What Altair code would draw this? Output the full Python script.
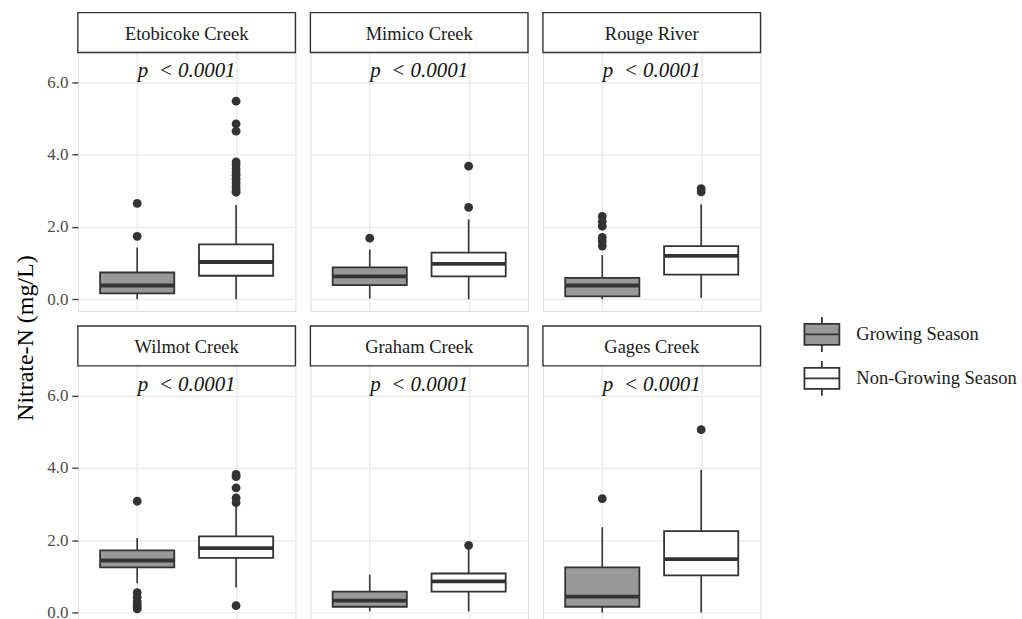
import altair as alt
import pandas as pd

# ---------------- data ----------------
sites = ["Etobicoke Creek", "Mimico Creek", "Rouge River",
         "Wilmot Creek", "Graham Creek", "Gages Creek"]
seasons = ["Growing Season", "Non-Growing Season"]
season_pos = [1, 2]
season_fill = ["#999999", "#ffffff"]

# per site: [Growing, Non-Growing]
whisker_lo = [0.00, 0.00, 0.02, 0.00, 0.00, 0.04, 0.81, 0.69, 0.03, 0.03, 0.00, 0.00]
q1 =         [0.16, 0.65, 0.39, 0.63, 0.08, 0.68, 1.25, 1.51, 0.16, 0.58, 0.16, 1.03]
median =     [0.38, 1.03, 0.63, 0.98, 0.38, 1.20, 1.44, 1.78, 0.33, 0.86, 0.44, 1.48]
q3 =         [0.74, 1.52, 0.88, 1.29, 0.59, 1.47, 1.72, 2.11, 0.58, 1.08, 1.25, 2.25]
whisker_hi = [1.43, 2.61, 1.37, 2.21, 1.22, 2.63, 2.06, 2.95, 1.05, 1.79, 2.36, 3.95]

out_site = (["Etobicoke Creek"] * 2 + ["Etobicoke Creek"] * 13 +
            ["Mimico Creek"] * 1 + ["Mimico Creek"] * 2 +
            ["Rouge River"] * 6 + ["Rouge River"] * 2 +
            ["Wilmot Creek"] * 7 + ["Wilmot Creek"] * 6 +
            ["Graham Creek"] * 1 +
            ["Gages Creek"] * 1 + ["Gages Creek"] * 1)
out_season = (["Growing Season"] * 2 + ["Non-Growing Season"] * 13 +
              ["Growing Season"] * 1 + ["Non-Growing Season"] * 2 +
              ["Growing Season"] * 6 + ["Non-Growing Season"] * 2 +
              ["Growing Season"] * 7 + ["Non-Growing Season"] * 6 +
              ["Non-Growing Season"] * 1 +
              ["Growing Season"] * 1 + ["Non-Growing Season"] * 1)
out_value = ([1.74, 2.65] +
             [5.48, 4.85, 4.65, 3.80, 3.72, 3.60, 3.50, 3.42, 3.32, 3.22, 3.12, 3.03, 2.96] +
             [1.69] + [2.54, 3.68] +
             [1.47, 1.60, 1.71, 2.02, 2.15, 2.29] + [2.97, 3.06] +
             [3.08, 0.55, 0.42, 0.30, 0.22, 0.15, 0.10] + [3.82, 3.76, 3.45, 3.17, 3.04, 0.19] +
             [1.86] +
             [3.15] + [5.06])

p_label = "p\u00a0 < 0.0001"
p_label_y = 6.14
y_ticks = [0, 2, 4, 6]

# ---------------- tables ----------------
box_df = pd.DataFrame({
    "site": [s for s in sites for _ in seasons],
    "season": seasons * len(sites),
    "xpos": season_pos * len(sites),
    "wlo": whisker_lo, "q1": q1, "med": median, "q3": q3, "whi": whisker_hi,
})
pos_map = dict(zip(seasons, season_pos))
out_df = pd.DataFrame({"site": out_site, "season": out_season, "value": out_value})
out_df["xpos"] = out_df["season"].map(pos_map)

DARK = "#333333"
FONT = "Liberation Serif"
W = 218
STRIP = 40

legend_symbol = ("M-1,-0.6L1,-0.6L1,0.6L-1,0.6Z M-1,0L1,0 "
                 "M0,-0.6L0,-1 M0,0.6L0,1")


def panel(site, row, col):
    data_top = 6.825
    if row == 0:
        lo, plot_h = -0.325, 259
    else:
        lo, plot_h = -0.19, 254
    ppu = plot_h / (data_top - lo)
    hi = data_top + STRIP / ppu
    h = plot_h + STRIP

    xs = alt.Scale(domain=[0.4, 2.6], nice=False, zero=False)
    ys = alt.Scale(domain=[lo, hi], nice=False, zero=False)
    xa = alt.Axis(values=season_pos, labels=False, ticks=False, domain=False,
                  title=None, grid=True, gridColor="#ebebeb", gridWidth=1.4)
    if col == 0:
        ya = alt.Axis(values=y_ticks, format=".1f", title=None, domain=False,
                      ticks=True, tickColor=DARK, tickSize=6, tickWidth=1.3,
                      labelFont=FONT, labelFontSize=17, labelColor="#4d4d4d",
                      labelPadding=4, grid=True, gridColor="#ebebeb", gridWidth=1.4)
    else:
        ya = alt.Axis(values=y_ticks, labels=False, ticks=False, domain=False,
                      title=None, grid=True, gridColor="#ebebeb", gridWidth=1.4)

    bdf = box_df[box_df.site == site]
    odf = out_df[out_df.site == site]
    base = alt.Chart(bdf)
    sdf = pd.DataFrame({"site": [site]})

    strip_rect = alt.Chart(sdf).mark_rect(fill="white", stroke=DARK, strokeWidth=1.4).encode(
        x=alt.value(0), x2=alt.value(W), y=alt.value(0), y2=alt.value(STRIP)
    )
    strip_text = alt.Chart(sdf).mark_text(
        font=FONT, fontSize=18.5, color="#1a1a1a", baseline="middle"
    ).encode(text="site:N", x=alt.value(W / 2), y=alt.value(STRIP / 2 + 1))

    whisk = base.mark_rule(color=DARK, strokeWidth=1.6).encode(
        x=alt.X("xpos:Q", scale=xs, axis=xa),
        y=alt.Y("wlo:Q", scale=ys, axis=ya),
        y2="whi:Q",
    )
    box = base.transform_calculate(
        xl="datum.xpos - 0.375", xr="datum.xpos + 0.375"
    ).mark_bar(stroke=DARK, strokeWidth=1.8).encode(
        x=alt.X("xl:Q", scale=xs, axis=xa),
        x2="xr:Q",
        y=alt.Y("q1:Q", scale=ys, axis=ya),
        y2="q3:Q",
        fill=alt.Fill("season:N",
                      scale=alt.Scale(domain=seasons, range=season_fill),
                      legend=alt.Legend(
                          title=None, orient="none", legendX=727, legendY=304,
                          symbolType=legend_symbol, symbolSize=1225,
                          symbolStrokeColor=DARK, symbolStrokeWidth=1.8,
                          labelFont=FONT, labelFontSize=18.5, labelColor="#1a1a1a",
                          labelLimit=400, rowPadding=1, labelOffset=16)),
    )
    medl = base.transform_calculate(
        xl="datum.xpos - 0.375", xr="datum.xpos + 0.375"
    ).mark_rule(color=DARK, strokeWidth=3.8).encode(
        x=alt.X("xl:Q", scale=xs, axis=xa),
        x2="xr:Q",
        y=alt.Y("med:Q", scale=ys, axis=ya),
    )
    pts = alt.Chart(odf).mark_circle(size=78, color=DARK, opacity=1).encode(
        x=alt.X("xpos:Q", scale=xs, axis=xa),
        y=alt.Y("value:Q", scale=ys, axis=ya),
    )
    ptxt = alt.Chart(pd.DataFrame({"label": [p_label], "x": [1.5], "y": [p_label_y]})).mark_text(
        font=FONT, fontStyle="italic", fontSize=21, color="#111111", baseline="alphabetic"
    ).encode(
        x=alt.X("x:Q", scale=xs, axis=xa),
        y=alt.Y("y:Q", scale=ys, axis=ya),
        text="label:N",
    )
    return alt.layer(whisk, box, medl, pts, ptxt, strip_rect, strip_text).properties(
        width=W, height=h)


rows = []
for r in range(2):
    cols = [panel(sites[r * 3 + c], r, c) for c in range(3)]
    rows.append(alt.hconcat(*cols, spacing=11))

chart = alt.vconcat(*rows, spacing=12).resolve_scale(
    x="independent", y="independent", fill="shared"
).properties(
    title=alt.TitleParams("Nitrate-N (mg/L)", orient="left", anchor="middle",
                          font=FONT, fontSize=24, fontWeight="normal",
                          color="#000000", offset=8, dx=-22),
    padding={"left": 14, "top": 10, "right": 5, "bottom": 0},
).configure_view(
    stroke=DARK, strokeWidth=1.4, fill="white"
).configure(background="white")

chart.save("out.html", embed_options={"renderer": "svg", "actions": False})
